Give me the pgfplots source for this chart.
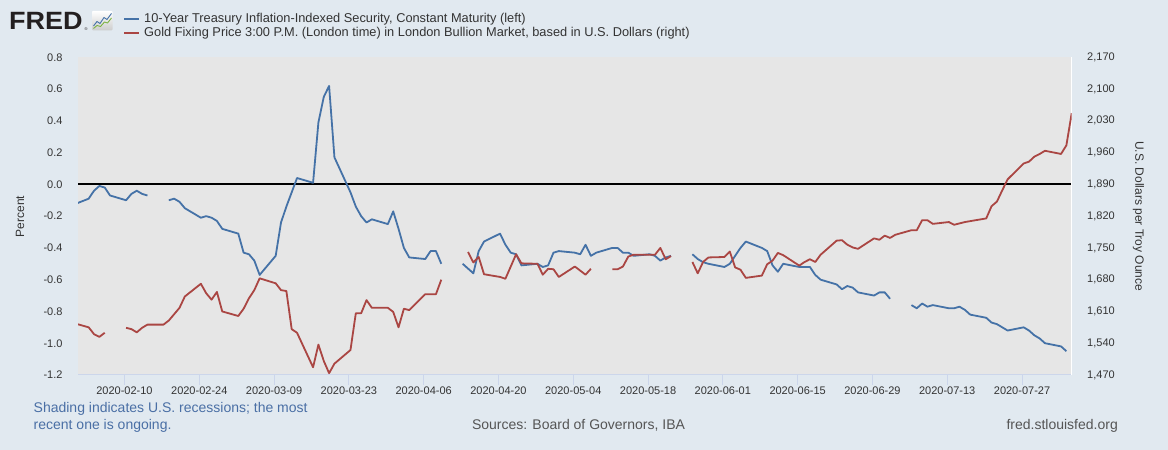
\documentclass[border=0pt]{standalone}
\usepackage{pgfplots}
\usepackage{pgfplotstable}
\pgfplotsset{compat=1.18}
\usepackage{fontspec}
\setmainfont{Liberation Sans}
\definecolor{fredbg}{HTML}{E1E9F0}
\definecolor{plotbg}{HTML}{E6E6E6}
\definecolor{fredblue}{HTML}{4572A7}
\definecolor{fredred}{HTML}{AA4643}
\definecolor{axisblue}{HTML}{CCD6EB}
\definecolor{ticktext}{HTML}{333333}
\definecolor{notetext}{HTML}{4A6FA5}
\definecolor{srctext}{HTML}{555555}
\definecolor{logogreen}{HTML}{7CB342}

% day of year 2020 (Jan 1 = 0); nan = missing value (gap)
\pgfplotstableread{
d v
30 -0.13
33 -0.09
34 -0.04
35 -0.01
36 -0.02
37 -0.07
40 -0.10
41 -0.06
42 -0.04
43 -0.06
44 -0.07
47 nan
48 -0.10
49 -0.09
50 -0.11
51 -0.15
54 -0.21
55 -0.20
56 -0.21
57 -0.23
58 -0.28
61 -0.31
62 -0.43
63 -0.44
64 -0.48
65 -0.57
68 -0.45
69 -0.24
70 -0.14
71 -0.05
72 0.04
75 0.01
76 0.39
77 0.55
78 0.62
79 0.17
82 -0.05
83 -0.14
84 -0.20
85 -0.24
86 -0.22
89 -0.25
90 -0.17
91 -0.28
92 -0.40
93 -0.46
96 -0.47
97 -0.42
98 -0.42
99 -0.50
100 nan
103 -0.50
104 -0.53
105 -0.56
106 -0.42
107 -0.36
110 -0.31
111 -0.38
112 -0.43
113 -0.44
114 -0.51
117 -0.50
118 -0.52
119 -0.51
120 -0.43
121 -0.42
124 -0.43
125 -0.44
126 -0.38
127 -0.45
128 -0.43
131 -0.40
132 -0.40
133 -0.43
134 -0.43
135 -0.45
138 -0.44
139 -0.45
140 -0.48
141 -0.46
142 -0.45
145 nan
146 -0.44
147 -0.47
148 -0.49
149 -0.50
152 -0.52
153 -0.50
154 -0.45
155 -0.40
156 -0.36
159 -0.40
160 -0.42
161 -0.51
162 -0.55
163 -0.50
166 -0.52
167 -0.52
168 -0.52
169 -0.57
170 -0.60
173 -0.63
174 -0.66
175 -0.64
176 -0.65
177 -0.68
180 -0.70
181 -0.68
182 -0.68
183 -0.72
184 nan
187 -0.76
188 -0.78
189 -0.75
190 -0.77
191 -0.76
194 -0.78
195 -0.78
196 -0.77
197 -0.79
198 -0.82
201 -0.84
202 -0.87
203 -0.88
204 -0.90
205 -0.92
208 -0.90
209 -0.92
210 -0.95
211 -0.97
212 -1.00
215 -1.02
216 -1.05
}\tipsdata

\pgfplotstableread{
d v
30 1585
33 1575
34 1560
35 1554
36 1563
37 nan
40 1574
41 1571
42 1564
43 1574
44 1581
47 1581
48 1590
49 1604
50 1618
51 1643
54 1671
55 1650
56 1636
57 1653
58 1610
61 1600
62 1616
63 1639
64 1657
65 1683
68 1672
69 1657
70 1655
71 1571
72 1563
75 1487
76 1537
77 1501
78 1474
79 1495
82 1525
83 1606
84 1606
85 1635
86 1618
89 1618
90 1609
91 1575
92 1616
93 1613
96 1648
97 1648
98 1648
99 1680
100 nan
103 nan
104 1741
105 1718
106 1730
107 1692
110 1686
111 1682
112 1709
113 1736
114 1716
117 1715
118 1691
119 1704
120 1703
121 1686
124 1709
125 1700
126 1691
127 1704
128 nan
131 1703
132 1703
133 1709
134 1731
135 1735
138 1735
139 1735
140 1750
141 1725
142 1732
145 nan
146 1719
147 1694
148 1719
149 1729
152 1730
153 1742
154 1707
155 1702
156 1684
159 1689
160 1714
161 1722
162 1739
163 1734
166 1711
167 1719
168 1725
169 1719
170 1735
173 1766
174 1767
175 1757
176 1751
177 1748
180 1771
181 1768
182 1777
183 1772
184 1779
187 1789
188 1789
189 1811
190 1811
191 1803
194 1807
195 1801
196 1804
197 1807
198 1809
201 1815
202 1842
203 1852
204 1877
205 1901
208 1936
209 1940
210 1951
211 1957
212 1964
215 1957
216 1976
217 2047
}\golddata

\newcommand\tickfont{\fontsize{11bp}{13bp}\selectfont}

\begin{document}
\begin{tikzpicture}[x=1bp,y=1bp]
\useasboundingbox (0,0) rectangle (1168,450);
\fill[fredbg] (0,0) rectangle (1168,450);

% ---- logo ----
\node[anchor=west, inner sep=0pt, xscale=1.08, text={rgb,255:red,35;green,31;blue,32},
      font=\fontsize{25bp}{25bp}\selectfont\bfseries] at (9,429) {FRED};
\node[anchor=west, inner sep=0pt, text={rgb,255:red,35;green,31;blue,32}, font=\fontsize{4bp}{4bp}\selectfont] at (84.5,421) {®};
\shade[top color=white, bottom color=gray!40, rounded corners=1bp]
  (92,419.5) rectangle (112.5,439);
\draw[logogreen, line width=0.9bp, line join=round]
  (93.5,421.5) -- (97,424.5) -- (100.5,423.5) -- (104.5,428) -- (107.5,427) -- (111.5,432);
\draw[fredblue, line width=0.9bp, line join=round]
  (93.5,424) -- (97,428.5) -- (100,426.5) -- (104,432.5) -- (107,430.5) -- (111.5,436.5);

% ---- legend ----
\draw[fredblue, line width=2bp] (124,430.5) -- (138.7,430.5);
\draw[fredred, line width=2bp] (124,416.5) -- (138.7,416.5);
\node[anchor=west, inner sep=0pt, text=ticktext, font=\fontsize{12.8bp}{14bp}\selectfont]
  at (144,430.5) {10-Year Treasury Inflation-Indexed Security, Constant Maturity (left)};
\node[anchor=west, inner sep=0pt, text=ticktext, font=\fontsize{12.8bp}{14bp}\selectfont]
  at (144,416.5) {Gold Fixing Price 3:00 P.M. (London time) in London Bullion Market, based in U.S. Dollars (right)};

% ---- left axis ----
\begin{axis}[
  at={(78bp,75bp)}, anchor=south west,
  scale only axis, width=993.7bp, height=317.7bp,
  xmin=31, xmax=217, ymin=-1.2, ymax=0.8,
  axis background/.style={fill=plotbg},
  axis x line*=bottom, axis y line*=left,
  x axis line style={axisblue, line width=1bp, -},
  y axis line style={draw=none},
  tick align=outside, major tick length=10bp,
  xtick={39.7,53.7,67.7,81.7,95.7,109.7,123.7,137.7,151.7,165.7,179.7,193.7,207.7},
  xticklabels={2020-02-10,2020-02-24,2020-03-09,2020-03-23,2020-04-06,2020-04-20,2020-05-04,2020-05-18,2020-06-01,2020-06-15,2020-06-29,2020-07-13,2020-07-27},
  xtick style={axisblue, line width=1bp},
  xticklabel style={font=\tickfont, text=ticktext, inner sep=0pt, yshift=-2bp},
  ytick={-1.2,-1.0,-0.8,-0.6,-0.4,-0.2,0,0.2,0.4,0.6,0.8},
  yticklabels={-1.2,-1.0,-0.8,-0.6,-0.4,-0.2,0.0,0.2,0.4,0.6,0.8},
  ytick style={draw=none},
  yticklabel style={font=\tickfont, text=ticktext, inner sep=0pt, anchor=east, xshift=-5.3bp},
  unbounded coords=jump,
]
\addplot[black, line width=2bp] coordinates {(31,0) (217,0)};
\addplot[fredblue, line width=1.8bp, line join=round] table[x=d, y=v] {\tipsdata};
\end{axis}

% ---- right axis ----
\begin{axis}[
  at={(78bp,75bp)}, anchor=south west,
  scale only axis, width=993.7bp, height=317.7bp,
  xmin=31, xmax=217, ymin=1470, ymax=2170,
  axis x line=none, axis y line*=right,
  y axis line style={white, line width=1bp, -},
  tick align=outside, major tick length=10bp,
  xtick=\empty,
  ytick={1470,1540,1610,1680,1750,1820,1890,1960,2030,2100,2170},
  yticklabels={{1,470},{1,540},{1,610},{1,680},{1,750},{1,820},{1,890},{1,960},{2,030},{2,100},{2,170}},
  ytick style={draw=none},
  yticklabel style={font=\tickfont, text=ticktext, inner sep=0pt, anchor=west, xshift=5.3bp},
  unbounded coords=jump,
]
\addplot[fredred, line width=1.8bp, line join=round] table[x=d, y=v] {\golddata};
\end{axis}

% ---- axis titles ----
\node[rotate=90, text=ticktext, font=\fontsize{12bp}{14bp}\selectfont] at (20,233.5) {Percent};
\node[rotate=-90, text=ticktext, font=\fontsize{12bp}{14bp}\selectfont] at (1138.5,233.8) {U.S. Dollars per Troy Ounce};

% ---- footer ----
\node[anchor=west, inner sep=0pt, text=notetext, font=\fontsize{14bp}{16bp}\selectfont] at (33.5,40.7) {Shading indicates U.S. recessions; the most};
\node[anchor=west, inner sep=0pt, text=notetext, font=\fontsize{14bp}{16bp}\selectfont] at (33.5,24.3) {recent one is ongoing.};
\node[inner sep=0pt, text=srctext, font=\fontsize{14bp}{16bp}\selectfont] at (578.5,24.3) {Sources: Board of Governors, IBA};
\node[anchor=east, inner sep=0pt, text=srctext, font=\fontsize{14bp}{16bp}\selectfont] at (1118,24.3) {fred.stlouisfed.org};
\end{tikzpicture}
\end{document}
